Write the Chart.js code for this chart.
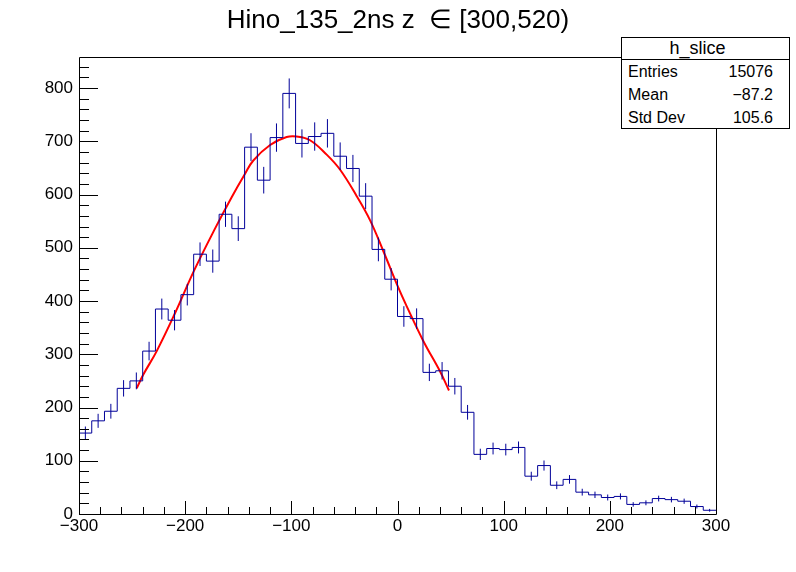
<!DOCTYPE html>
<html>
<head>
<meta charset="UTF-8">
<title>h_slice</title>
<script src="https://cdn.jsdelivr.net/npm/chart.js"></script>
<style type="text/css">
body { margin: 0; background: #fff; }
#wrap { position: relative; width: 796px; height: 572px; }
/* stats box */
#stats {
	position: absolute; left: 621px; top: 37px; width: 169px; height: 92px;
	box-sizing: border-box; border: 1px solid #000; background: #fff;
	font-family: 'Liberation Sans', Arial, sans-serif; color: #000;
}
#stats .head { height: 21px; line-height: 21px; border-bottom: 1px solid #000; text-align: center; font-size: 18px; padding-right: 16px; }
#stats .row { height: 23px; line-height: 23px; font-size: 16px; padding: 0 16px 0 6px; display: flex; justify-content: space-between; }
</style>
</head>
<body>
<div id="wrap">
	<canvas id="myChart" width="796" height="572"></canvas>
	<div id="stats">
		<div class="head">h_slice</div>
		<div class="row"><span>Entries</span><span>15076</span></div>
		<div class="row"><span>Mean</span><span>&minus;87.2</span></div>
		<div class="row"><span>Std Dev</span><span>105.6</span></div>
	</div>
</div>
<script>
// bin low edges (width 12), last entry is the upper edge
const binEdges = [-300,-288,-276,-264,-252,-240,-228,-216,-204,-192,-180,-168,-156,-144,-132,-120,-108,-96,-84,-72,
	-60,-48,-36,-24,-12,0,12,24,36,48,60,72,84,96,108,120,132,144,156,168,180,192,204,216,228,240,252,264,276,288,300];
// counts
const binCounts = [152,175,193,236,250,306,385,364,412,488,475,563,536,689,627,707,790,696,709,715,
	672,649,597,497,441,371,367,266,269,240,191,112,123,121,125,71,91,54,65,41,36,31,33,18,21,29,27,24,14,7];
const binErrors = [12.3,13.2,13.9,15.4,15.8,17.5,19.6,19.1,20.3,22.1,21.8,23.7,23.2,26.2,25.0,26.6,28.1,26.4,26.6,26.7,
	25.9,25.5,24.4,22.3,21.0,19.3,19.2,16.3,16.4,15.5,13.8,10.6,11.1,11.0,11.2,8.4,9.5,7.3,8.1,6.4,6.0,5.6,5.7,4.2,4.6,5.4,5.2,4.9,3.7,2.6];
// red fit curve
const fitX = [-245.7,-239.4,-226.8,-209.6,-191.4,-171.9,-156.2,-143.6,-135.8,-120,-104.4,-95,-82.4,-66.7,-54.2,-38.4,-25.9,-13.4,0.8,8.7,24.3,40,48.5];
const fitY = [236,262,306,377,458,536,595,639,664,693,708,709,702,675,647,597,552,494,425,390,325,268,232];

const xTicksMajor = [-300,-200,-100,0,100,200,300];
const yTicksMajor = [0,100,200,300,400,500,600,700,800];

const fontFam = "'Liberation Sans', Arial, sans-serif";
const histColor = '#000099';

// histogram steps
let histData = [];
for (let i = 0; i < binCounts.length; i++) histData.push({x: binEdges[i], y: binCounts[i]});
histData.push({x: binEdges[binEdges.length - 1], y: binCounts[binCounts.length - 1]});

// error bars, broken by nulls
let errData = [];
for (let i = 0; i < binCounts.length; i++) {
	let c = (binEdges[i] + binEdges[i + 1]) / 2;
	errData.push({x: c, y: binCounts[i] - binErrors[i]});
	errData.push({x: c, y: binCounts[i] + binErrors[i]});
	errData.push({x: c, y: null});
}

let fitData = fitX.map((x, i) => ({x: x, y: fitY[i]}));

// ROOT style frame with inward ticks
const rootFrame = {
	id: 'rootFrame',
	afterDraw(chart) {
		const ctx = chart.ctx, a = chart.chartArea;
		const xs = chart.scales.x, ys = chart.scales.y;
		ctx.save();
		ctx.strokeStyle = '#000';
		ctx.lineWidth = 1;
		ctx.beginPath();
		ctx.rect(Math.round(a.left) + 0.5, Math.round(a.top) + 0.5, Math.round(a.right - a.left), Math.round(a.bottom - a.top));
		ctx.stroke();
		ctx.beginPath();
		for (let v = -300; v <= 300; v += 20) {
			let px = Math.round(xs.getPixelForValue(v)) + 0.5;
			let len = (v % 100 === 0) ? 13 : 7;
			ctx.moveTo(px, a.bottom);
			ctx.lineTo(px, a.bottom - len);
		}
		for (let v = 0; v <= 840; v += 20) {
			let py = Math.round(ys.getPixelForValue(v)) + 0.5;
			let len = (v % 100 === 0) ? 19 : 10;
			ctx.moveTo(a.left, py);
			ctx.lineTo(a.left + len, py);
		}
		ctx.stroke();
		ctx.restore();
	}
};

const minus = v => (v < 0 ? '\u2212' + Math.abs(v) : String(v));

new Chart(document.getElementById('myChart'), {
	type: 'line',
	data: {
		datasets: [
			{ data: histData, borderColor: histColor, borderWidth: 1, stepped: 'before', pointRadius: 0, fill: false },
			{ data: errData, borderColor: histColor, borderWidth: 1, pointRadius: 0, spanGaps: false, fill: false },
			{ data: fitData, borderColor: '#ff0000', borderWidth: 2, pointRadius: 0, tension: 0.4, fill: false }
		]
	},
	options: {
		responsive: false,
		devicePixelRatio: 1,
		animation: false,
		layout: { padding: 0 },
		plugins: {
			legend: { display: false },
			tooltip: { enabled: false },
			title: {
				display: true,
				text: 'Hino_135_2ns z  \u2208 [300,520)',
				color: '#000',
				font: { family: fontFam, size: 26, weight: 'normal' },
				padding: { top: 5, bottom: 21 }
			}
		},
		scales: {
			x: {
				type: 'linear', min: -300, max: 300,
				grid: { display: false, drawTicks: false },
				border: { display: false },
				afterBuildTicks: s => { s.ticks = xTicksMajor.map(v => ({value: v})); },
				afterFit: s => { s.height = 58; },
				ticks: { color: '#000', padding: 2, maxRotation: 0, autoSkip: false,
					font: { family: fontFam, size: 17 }, callback: v => minus(v) }
			},
			y: {
				type: 'linear', min: 0, max: 858,
				grid: { display: false, drawTicks: false },
				border: { display: false },
				afterBuildTicks: s => { s.ticks = yTicksMajor.map(v => ({value: v})); },
				afterFit: s => { s.width = 79; },
				ticks: { color: '#000', padding: 6, autoSkip: false,
					font: { family: fontFam, size: 17 }, callback: v => String(v) }
			},
			// empty right margin, keeps the title centred on the whole canvas
			yRight: {
				type: 'linear', position: 'right', min: 0, max: 858,
				grid: { display: false, drawTicks: false },
				border: { display: false },
				ticks: { display: false },
				afterFit: s => { s.width = 80; }
			}
		}
	},
	plugins: [rootFrame]
});
</script>
</body>
</html>
